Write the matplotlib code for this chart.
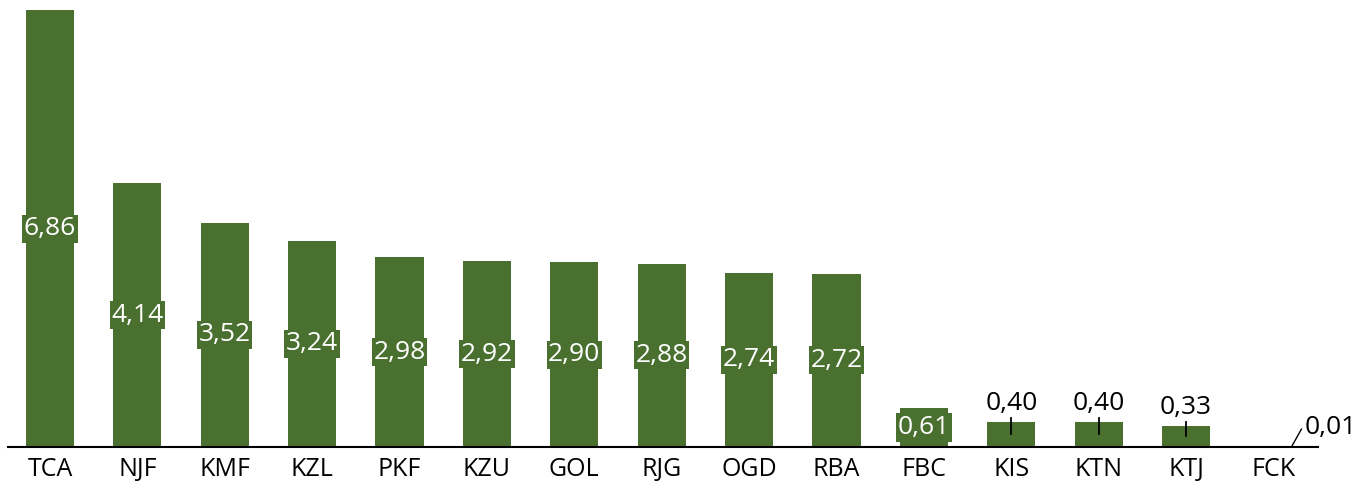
import matplotlib.pyplot as plt

## Data
codes = ["TCA", "NJF", "KMF", "KZL", "PKF", "KZU", "GOL", "RJG", "OGD", "RBA",
         "FBC", "KIS", "KTN", "KTJ", "FCK"]
values = [6.86, 4.14, 3.52, 3.24, 2.98, 2.92, 2.90, 2.88, 2.74, 2.72,
          0.61, 0.40, 0.40, 0.33, 0.01]

green = "#4a7030"
plt.rcParams['font.family'] = ['Open Sans', 'DejaVu Sans']

fig = plt.figure(figsize=(13.61, 4.91), dpi=100)
ax = fig.add_axes([8 / 1361, 44 / 491, 1310 / 1361, 447 / 491])

x = list(range(len(codes)))
ax.bar(x, values, width=0.55, color=green)

def fmt(v):
    return f"{v:.2f}".replace(".", ",")

## Labels: inside for tall bars, above with a small leader line for short ones
for i, v in enumerate(values):
    if v >= 0.5:
        ax.text(i, v / 2, fmt(v), ha="center", va="center", color="white", fontsize=19,
                bbox=dict(boxstyle="square,pad=0.06", fc=green, ec="none"))
    elif v >= 0.1:
        ax.plot([i, i], [v / 2, v + 0.055], color="black", lw=1.3)
        ax.text(i, v + 0.29, fmt(v), ha="center", va="center", fontsize=19, color="black")
    else:
        # tiny bar: diagonal leader to the right
        ax.plot([i + 0.21, i + 0.32], [v, v + 0.27], color="black", lw=1.0)
        ax.text(i + 0.36, v + 0.29, fmt(v), ha="left", va="center", fontsize=19, color="black")

ax.set_xlim(-0.48, 14.51)
ax.set_ylim(0, 7.02)
ax.set_xticks(x)
ax.set_xticklabels(codes, fontsize=18)
ax.tick_params(axis="x", length=0, pad=7)
ax.set_yticks([])
for side in ["top", "left", "right"]:
    ax.spines[side].set_visible(False)
ax.spines["bottom"].set_linewidth(1.5)

fig.savefig("out.png", dpi=100)
